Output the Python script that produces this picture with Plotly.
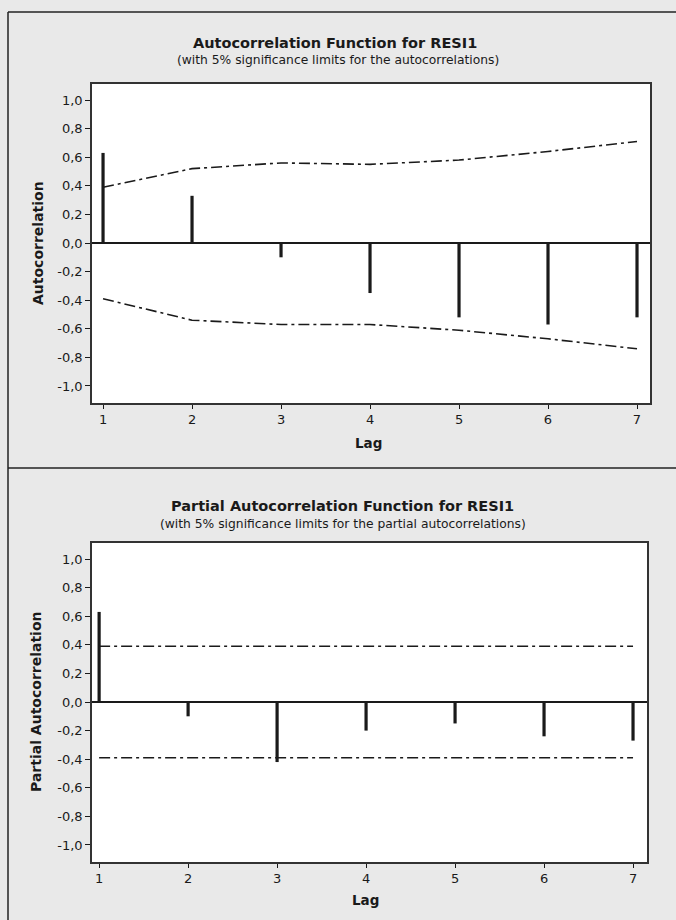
import plotly.graph_objects as go

W, H = 676, 920

lags = [1, 2, 3, 4, 5, 6, 7]
acf_values = [0.63, 0.33, -0.10, -0.35, -0.52, -0.57, -0.52]
acf_upper = [0.39, 0.52, 0.56, 0.55, 0.58, 0.64, 0.71]
acf_lower = [-0.39, -0.54, -0.57, -0.57, -0.61, -0.67, -0.74]
pacf_values = [0.63, -0.10, -0.42, -0.20, -0.15, -0.24, -0.27]
pacf_upper = [0.39, 0.39, 0.39, 0.39, 0.39, 0.39, 0.39]
pacf_lower = [-0.39, -0.39, -0.39, -0.39, -0.39, -0.39, -0.39]
y_tick_vals = [1.0, 0.8, 0.6, 0.4, 0.2, 0.0, -0.2, -0.4, -0.6, -0.8, -1.0]
y_tick_text = ["1,0", "0,8", "0,6", "0,4", "0,2", "0,0", "-0,2", "-0,4", "-0,6", "-0,8", "-1,0"]
x_tick_text = ["1", "2", "3", "4", "5", "6", "7"]

FONT = "DejaVu Sans"
INK = "#1a1a1a"

def px_x(p):
    return p / W

def px_y(p):
    return 1 - p / H

def stems(xs, ys):
    sx, sy = [], []
    for x, y in zip(xs, ys):
        sx += [x, x, None]
        sy += [0, y, None]
    return sx, sy

fig = go.Figure()

panels = [
    dict(vals=acf_values, up=acf_upper, lo=acf_lower, xa="x", ya="y"),
    dict(vals=pacf_values, up=pacf_upper, lo=pacf_lower, xa="x2", ya="y2"),
]
dash = "11px,4px,3px,4px"
for p in panels:
    sx, sy = stems(lags, p["vals"])
    fig.add_trace(go.Scatter(x=sx, y=sy, mode="lines", line=dict(color=INK, width=3.2),
                             xaxis=p["xa"], yaxis=p["ya"], showlegend=False, hoverinfo="skip"))
    for lim in (p["up"], p["lo"]):
        fig.add_trace(go.Scatter(x=lags, y=lim, mode="lines",
                                 line=dict(color=INK, width=1.6, dash=dash),
                                 xaxis=p["xa"], yaxis=p["ya"], showlegend=False, hoverinfo="skip"))

xcommon = dict(tickmode="array", tickvals=lags, ticktext=x_tick_text, ticks="outside",
               ticklen=4, tickwidth=1, tickcolor=INK, showline=True, linecolor="#333333",
               linewidth=1.5, mirror=True, showgrid=False, zeroline=False,
               tickfont=dict(family=FONT, size=13, color=INK))
ycommon = dict(tickmode="array", tickvals=y_tick_vals, ticktext=y_tick_text, ticks="outside",
               ticklen=5, tickwidth=1, tickcolor=INK, showline=True, linecolor="#333333",
               linewidth=1.5, mirror=True, showgrid=False, zeroline=True, zerolinecolor=INK,
               zerolinewidth=1.5, range=[-1.119, 1.112],
               tickfont=dict(family=FONT, size=13, color=INK))

fig.update_layout(
    width=W, height=H, margin=dict(l=0, r=0, t=0, b=0),
    paper_bgcolor="#e9e9e9", plot_bgcolor="white",
    xaxis=dict(xcommon, domain=[px_x(92), px_x(650)], range=[0.876, 7.146], anchor="y"),
    yaxis=dict(ycommon, domain=[px_y(403), px_y(84)], anchor="x"),
    xaxis2=dict(xcommon, domain=[px_x(92), px_x(647)], range=[0.92, 7.157], anchor="y2"),
    yaxis2=dict(ycommon, domain=[px_y(862), px_y(543)], anchor="x2"),
)

def ann(text, x, y, size, bold=False, angle=0):
    fig.add_annotation(text=f"<b>{text}</b>" if bold else text, x=px_x(x), y=px_y(y),
                       xref="paper", yref="paper", showarrow=False, textangle=angle,
                       xanchor="center", yanchor="middle",
                       font=dict(family=FONT, size=size, color=INK))

ann("Autocorrelation Function for RESI1", 335, 43, 14.5, bold=True)
ann("(with 5% significance limits for the autocorrelations)", 338, 60, 12.3)
ann("Lag", 368, 443, 13.5, bold=True)
ann("Autocorrelation", 38, 243, 14, bold=True, angle=-90)

ann("Partial Autocorrelation Function for RESI1", 342, 506, 14.5, bold=True)
ann("(with 5% significance limits for the partial autocorrelations)", 343, 524, 12.3)
ann("Lag", 365, 900, 13.5, bold=True)
ann("Partial Autocorrelation", 36, 702, 14, bold=True, angle=-90)

# outer frame and divider
frame = dict(color="#222222", width=1.5)
fig.add_shape(type="line", xref="paper", yref="paper", x0=px_x(8), x1=1, y0=px_y(12), y1=px_y(12), line=frame)
fig.add_shape(type="line", xref="paper", yref="paper", x0=px_x(8), x1=px_x(8), y0=px_y(12), y1=0, line=frame)
fig.add_shape(type="line", xref="paper", yref="paper", x0=px_x(8), x1=1, y0=px_y(468), y1=px_y(468), line=frame)

fig.write_html("out.html", config={"displayModeBar": False},
               post_script="document.body.style.margin='0';document.body.style.overflow='hidden';")
